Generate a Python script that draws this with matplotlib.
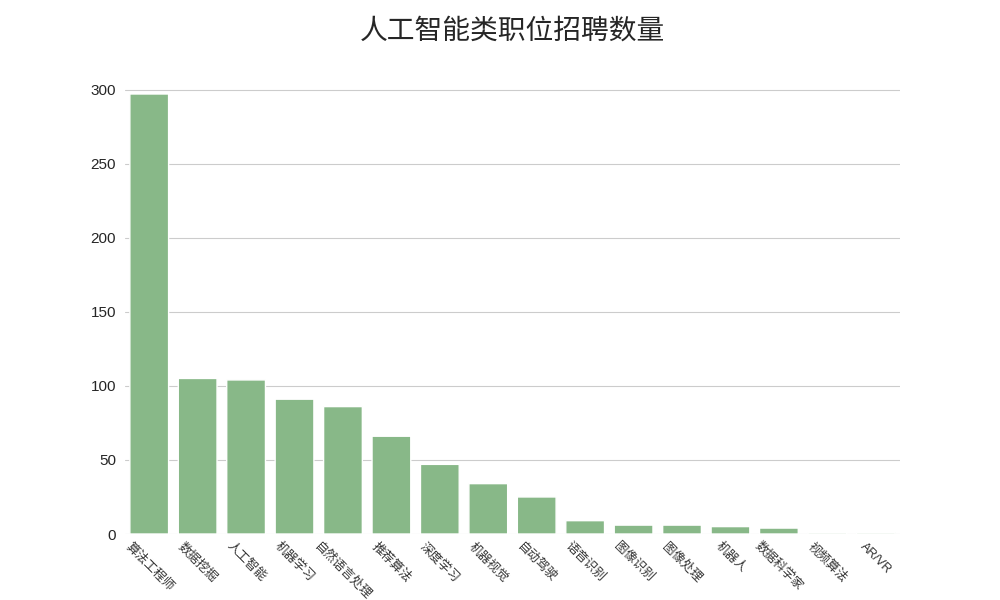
import matplotlib
matplotlib.use('Agg')
import matplotlib.pyplot as plt
import seaborn as sns

jobs = ['算法工程师', '数据挖掘', '人工智能', '机器学习', '自然语言处理', '推荐算法',
        '深度学习', '机器视觉', '自动驾驶', '语音识别', '图像识别', '图像处理',
        '机器人', '数据科学家', '视频算法', 'AR/VR']
counts = [297, 105, 104, 91, 86, 66, 47, 34, 25, 9, 6, 6, 5, 4, 1, 1]

sns.set_style('whitegrid')
plt.rcParams['font.family'] = ['Liberation Sans', 'Noto Sans CJK SC', 'DejaVu Sans']
plt.rcParams['axes.unicode_minus'] = False

fig = plt.figure(figsize=(10, 6), dpi=100)
ax = fig.add_subplot(111)
ax.bar(range(len(jobs)), counts, width=0.8, color='#88b888', snap=False)
ax.set_xlim(-0.5, len(jobs) - 0.5)
ax.set_xticks(range(len(jobs)))
ax.set_xticklabels(jobs, rotation=-45, ha='center', fontsize=9, color='#333333')
ax.tick_params(axis='x', pad=1)
ax.tick_params(axis='y', labelsize=11, colors='#262626', pad=3)
ax.xaxis.grid(False)
ax.yaxis.grid(True, color='#cccccc')
for s in ax.spines.values():
    s.set_visible(False)
ax.set_title('人工智能类职位招聘数量', fontsize=20, pad=24, color='#262626')
fig.savefig('out.png', dpi=100)
